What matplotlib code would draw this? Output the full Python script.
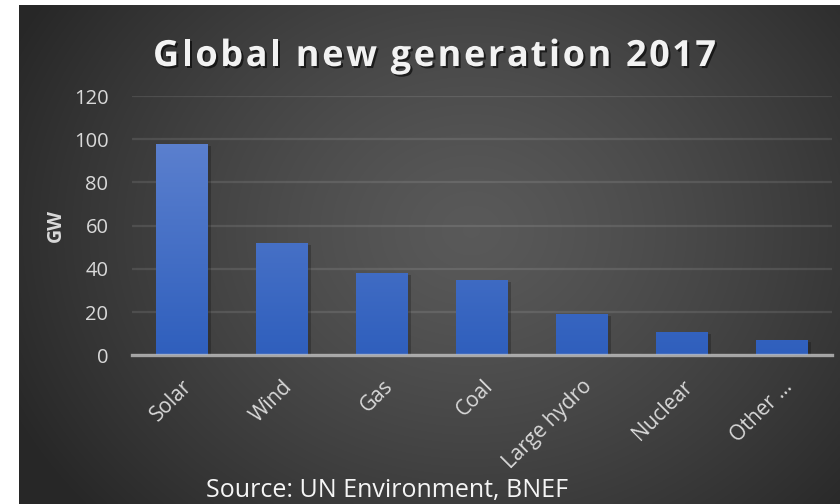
import numpy as np
import matplotlib
matplotlib.use("Agg")
import matplotlib.pyplot as plt
from matplotlib import patheffects as pe
from matplotlib.colors import LinearSegmentedColormap

categories = ["Solar", "Wind", "Gas", "Coal", "Large hydro", "Nuclear", "Other …"]
values = [98, 52, 38, 35, 19, 11, 7]
yticks = [0, 20, 40, 60, 80, 100, 120]
title = "Global new generation 2017"
source = "Source: UN Environment, BNEF"

W, H = 840, 504
fig = plt.figure(figsize=(W / 100, H / 100), dpi=100)
fig.patch.set_facecolor("white")

# background radial gradient panel
bg = fig.add_axes([19 / W, 0, 1 - 19 / W, 1 - 5 / H])
bg.set_axis_off()
ny, nx = 250, 410
yy, xx = np.mgrid[0:ny, 0:nx]
cx, cy = nx * 0.55, ny * 0.45
r = np.sqrt(((xx - cx) / (nx * 0.62)) ** 2 + ((yy - cy) / (ny * 0.85)) ** 2)
r = np.clip(r, 0, 1)
c_center, c_edge = 0.35, 0.155
img = c_center + (c_edge - c_center) * r ** 1.3
bg.imshow(np.dstack([img, img, img]), aspect="auto", extent=[0, 1, 0, 1],
          interpolation="bilinear")
bg.set_xlim(0, 1)
bg.set_ylim(0, 1)

ax = fig.add_axes([132 / W, 1 - 355.3 / H, 700 / W, (355.3 - 96) / H])
ax.set_facecolor("none")
x = np.arange(len(categories))
bars = ax.bar(x, values, width=0.52, color="#4a72c8", zorder=3,
              path_effects=[pe.SimplePatchShadow(offset=(2, -1.5), shadow_rgbFace="black", alpha=0.22),
                            pe.Normal()])
grad_cmap = LinearSegmentedColormap.from_list("bar", ["#2f5fbd", "#6587d2"])
grad = np.linspace(0, 1, 256).reshape(-1, 1)
for b in bars:
    x0, w, h = b.get_x(), b.get_width(), b.get_height()
    im = ax.imshow(grad, cmap=grad_cmap, aspect="auto", origin="lower",
                   extent=[x0, x0 + w, 0, 120], zorder=4)
    im.set_clip_path(b)

ax.set_xlim(-0.5, len(categories) - 0.5)
ax.set_ylim(0, 120)
ax.set_yticks(yticks)
ax.set_yticklabels([str(v) for v in yticks])
ax.grid(axis="y", color="white", alpha=0.1, linewidth=1.6, zorder=1)
ax.set_axisbelow(True)
ax.axhline(0, color="#c8c8c8", alpha=0.75, linewidth=2.4, zorder=6, clip_on=False)
for s in ax.spines.values():
    s.set_visible(False)
ax.tick_params(axis="both", length=0, colors="#d9d9d9", labelsize=14.5)
ax.tick_params(axis="y", pad=17)
ax.tick_params(axis="x", pad=15, labelsize=15)
ax.set_xticks(x)
ax.set_xticklabels(categories, rotation=45, ha="right", rotation_mode="anchor",
                   fontfamily="Open Sans")
for t in ax.get_yticklabels():
    t.set_fontfamily("Open Sans")

ax.set_ylabel("GW", color="#d9d9d9", fontsize=14, fontweight="bold",
              fontfamily="Open Sans", labelpad=6)

# letter-spaced title
renderer = fig.canvas.get_renderer()
tprops = dict(fontsize=26, fontweight="bold", color="#f2f2f2", fontfamily="Open Sans",
              va="baseline", ha="left",
              path_effects=[pe.withSimplePatchShadow(offset=(1.5, -1.5), shadow_rgbFace="black", alpha=0.6)])
target_left, target_right = 153, 716
base_y = 1 - 66 / H
widths = []
for i in range(1, len(title) + 1):
    tt = fig.text(0, 0, title[:i], **tprops)
    widths.append(tt.get_window_extent(renderer).width)
    tt.remove()
natural = widths[-1]
extra = (target_right - target_left - natural) / (len(title) - 1)
for i, ch in enumerate(title):
    prev = widths[i - 1] if i > 0 else 0.0
    px = target_left + prev + extra * i
    fig.text(px / W, base_y, ch, **tprops)

fig.text(206 / W, 1 - 497 / H, source, ha="left", va="baseline",
         fontsize=18, color="#f5f5f5", fontfamily="Open Sans")

fig.savefig("out.png", dpi=100, facecolor=fig.get_facecolor())
